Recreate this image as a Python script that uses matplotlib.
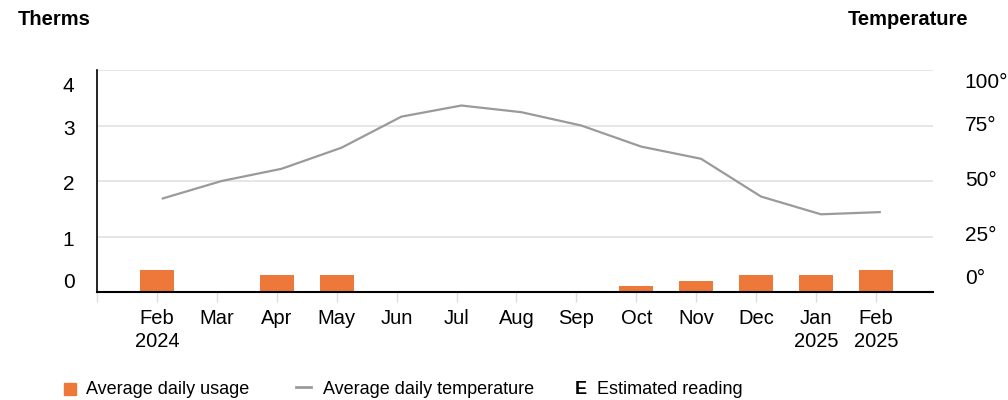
import matplotlib
matplotlib.use("Agg")
import matplotlib.pyplot as plt
import matplotlib.transforms as mtransforms
from matplotlib.patches import Rectangle
from matplotlib.lines import Line2D
import numpy as np

months = ['Feb\n2024', 'Mar', 'Apr', 'May', 'Jun', 'Jul', 'Aug', 'Sep',
          'Oct', 'Nov', 'Dec', 'Jan\n2025', 'Feb\n2025']
usage = [0.4, 0, 0.3, 0.3, 0, 0, 0, 0, 0.1, 0.2, 0.3, 0.3, 0.4]
temps = [42, 50, 55.5, 65, 79, 84, 81, 75, 65.5, 60, 43, 35, 36]

therm_ticks = [0, 1, 2, 3, 4]
temp_ticks = [0, 25, 50, 75, 100]
temp_labels = ['0°', '25°', '50°', '75°', '100°']

plt.rcParams['font.family'] = ['Liberation Sans', 'DejaVu Sans']

orange = '#ee7839'
grey = '#9a9a9a'

fig = plt.figure(figsize=(10.08, 4), dpi=100)
ax = fig.add_axes([97 / 1008, 108 / 400, 836 / 1008, 222 / 400])
ax2 = ax.twinx()

x = np.arange(len(months))
ax.bar(x, usage, 0.57, color=orange, zorder=2)
ax2.plot(x + 0.08, temps, color=grey, lw=1.6, solid_capstyle='butt')

ax.set_xlim(-1, 12.95)
ax.set_ylim(0, 4)
ax2.set_ylim(0, 100)

ax.set_yticks(therm_ticks)
ax.set_yticklabels([])
ax.tick_params(axis='y', length=0)
ax.grid(axis='y', color='#e6e6e6', lw=1.4)
ax.set_axisbelow(True)
ax2.set_yticks([])
ax2.patch.set_visible(False)

ax.set_xticks(x)
ax.set_xticklabels(months, fontsize=14.5, linespacing=1.3)
ax.set_xticks([-1], minor=True)
ax.tick_params(axis='x', which='both', direction='out', length=7, width=1,
               color='#dcdcdc', pad=5)

for a in (ax, ax2):
    for side in ('top', 'right', 'left', 'bottom'):
        a.spines[side].set_visible(False)
ax.spines['left'].set_visible(True)
ax.spines['bottom'].set_visible(True)
ax.spines['left'].set_linewidth(1.2)
ax.spines['bottom'].set_linewidth(1.5)

# y labels (shifted so the end labels stay inside the plot)
left_dy = [-9, 4, 4, 4, 17]
right_dy = [-13, -1, -1, 0, 12]
for v, dy in zip(therm_ticks, left_dy):
    tr = ax.get_yaxis_transform() + mtransforms.ScaledTranslation(0, -dy / 100, fig.dpi_scale_trans)
    ax.text(-0.027, v, str(v), transform=tr, ha='right', va='center', fontsize=15)
for v, lab, dy in zip(temp_ticks, temp_labels, right_dy):
    tr = ax2.get_yaxis_transform() + mtransforms.ScaledTranslation(0, -dy / 100, fig.dpi_scale_trans)
    ax2.text(1.038, v, lab, transform=tr, ha='left', va='center', fontsize=15)

fig.text(18 / 1008, 0.952, 'Therms', fontsize=14.5, fontweight='bold', va='center', ha='left')
fig.text(968 / 1008, 0.952, 'Temperature', fontsize=14.5, fontweight='bold', va='center', ha='right')

# legend
ly = 11 / 400
fig.patches.append(Rectangle((64 / 1008, 5 / 400), 12 / 1008, 12 / 400,
                             color=orange, transform=fig.transFigure, figure=fig))
fig.text(86 / 1008, ly, 'Average daily usage', fontsize=13, va='center')
fig.lines.append(Line2D([296 / 1008, 311 / 1008], [13 / 400, 13 / 400], color=grey,
                        lw=2, transform=fig.transFigure, figure=fig))
fig.text(323 / 1008, ly, 'Average daily temperature', fontsize=13, va='center')
fig.text(575 / 1008, ly, 'E', fontsize=13, fontweight='bold', va='center')
fig.text(597 / 1008, ly, 'Estimated reading', fontsize=13, va='center')

fig.savefig('out.png', dpi=100)
